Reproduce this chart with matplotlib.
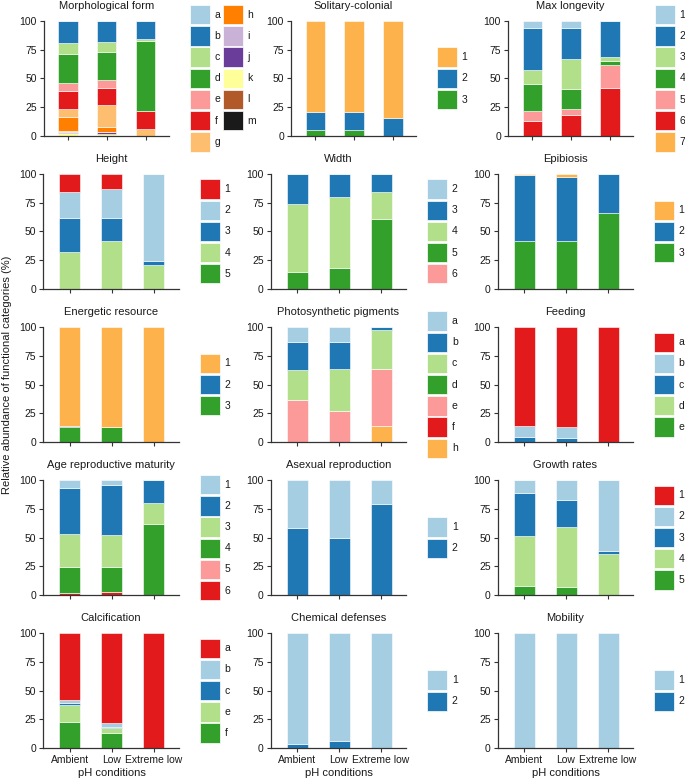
import matplotlib
matplotlib.use("Agg")
import matplotlib.pyplot as plt
import matplotlib.patches as patches

plt.rcParams['font.family'] = ['Liberation Sans', 'DejaVu Sans']

W, H = 685, 781

ph = ['Ambient', 'Low', 'Extreme low']

# colours (Paired palette + orange)
lb, bl, lg, gr = '#a6cee3', '#1f78b4', '#b2df8a', '#33a02c'
pk, rd, po, og = '#fb9a99', '#e31a1c', '#fdbf6f', '#ff7f00'
lav, pur, yel, brn, blk = '#cab2d6', '#6a3d9a', '#ffff99', '#b15928', '#1a1a1a'
org = '#feb24c'

# values: one row per category (legend order), columns = Ambient, Low, Extreme low
morph_cats = list('abcdefghijklm')
morph_vals = [[0, 0, 0], [19.5, 18.2, 16.2], [9.5, 8.8, 1.2], [25, 24.5, 60.9],
              [7, 7.2, 0], [15.5, 14.3, 15.3], [7, 19, 6.4], [12.5, 4.2, 0],
              [0.5, 0.3, 0], [1, 1.8, 0], [2.5, 1.7, 0], [0, 0, 0], [0, 0, 0]]
morph_cols = [lb, bl, lg, gr, pk, rd, po, og, lav, pur, yel, brn, blk]

solit_cats = ['1', '2', '3']
solit_vals = [[79, 79.5, 84], [16, 15, 16], [5, 5.5, 0]]
solit_cols = [org, bl, gr]

longev_cats = ['1', '2', '3', '4', '5', '6', '7']
longev_vals = [[6.6, 6.6, 0], [36.2, 26.6, 31.2], [12.4, 26, 3.8], [23.1, 17.4, 3.7],
               [8.4, 5.2, 19.3], [13.3, 18.2, 42], [0, 0, 0]]
longev_cols = [lb, bl, lg, gr, pk, rd, org]

height_cats = ['1', '2', '3', '4', '5']
height_vals = [[15.6, 13.3, 0], [22.6, 25.4, 75.7], [30, 19.4, 3.8], [31.8, 41.9, 20.5], [0, 0, 0]]
height_cols = [rd, lb, bl, lg, gr]

width_cats = ['2', '3', '4', '5', '6']
width_vals = [[0, 0, 0], [26.6, 20.5, 15.6], [58.4, 61, 24], [15, 18.5, 60.4], [0, 0, 0]]
width_cols = [lb, bl, lg, gr, pk]

epib_cats = ['1', '2', '3']
epib_vals = [[1.4, 2.6, 0], [57.4, 55.4, 34.4], [41.2, 42, 65.6]]
epib_cols = [org, bl, gr]

energ_cats = ['1', '2', '3']
energ_vals = [[86.1, 86.7, 100], [0.9, 0, 0], [13, 13.3, 0]]
energ_cols = [org, bl, gr]

pigm_cats = ['a', 'b', 'c', 'd', 'e', 'f', 'h']
pigm_vals = [[13.3, 13.3, 0], [24.1, 22.7, 2.6], [26.1, 36.8, 33.9], [0, 0, 0],
             [36.5, 27.2, 49.6], [0, 0, 0], [0, 0, 13.9]]
pigm_cols = [lb, bl, lg, gr, pk, rd, org]

feed_cats = ['a', 'b', 'c', 'd', 'e']
feed_vals = [[86.1, 87, 100], [9.6, 9.2, 0], [4.3, 3.8, 0], [0, 0, 0], [0, 0, 0]]
feed_cols = [rd, lb, bl, lg, gr]

age_cats = ['1', '2', '3', '4', '5', '6']
age_vals = [[7.2, 4.6, 0], [39.5, 43.5, 20], [29, 27.6, 18.3], [22, 21.1, 61.7],
            [0, 0, 0], [2.3, 3.2, 0]]
age_cols = [lb, bl, lg, gr, pk, rd]

asex_cats = ['1', '2']
asex_vals = [[41.4, 50.4, 20.9], [58.6, 49.6, 79.1]]
asex_cols = [lb, bl]

growth_cats = ['1', '2', '3', '4', '5']
growth_vals = [[0, 0, 0], [11, 17.4, 61.2], [37.4, 23.2, 2.6], [43.8, 52.4, 36.2], [7.8, 7, 0]]
growth_cols = [rd, lb, bl, lg, gr]

calc_cats = ['a', 'b', 'c', 'e', 'f']
calc_vals = [[58.1, 78.3, 100], [2.3, 2.9, 0], [2, 0.9, 0], [14.8, 4.9, 0], [22.8, 13, 0]]
calc_cols = [rd, lb, bl, lg, gr]

chem_cats = ['1', '2']
chem_vals = [[96.2, 94, 100], [3.8, 6, 0]]
chem_cols = [lb, bl]

mob_cats = ['1', '2']
mob_vals = [[100, 100, 100], [0, 0, 0]]
mob_cols = [lb, bl]

panels = [
    ('Morphological form', morph_cats, morph_vals, morph_cols),
    ('Solitary-colonial', solit_cats, solit_vals, solit_cols),
    ('Max longevity', longev_cats, longev_vals, longev_cols),
    ('Height', height_cats, height_vals, height_cols),
    ('Width', width_cats, width_vals, width_cols),
    ('Epibiosis', epib_cats, epib_vals, epib_cols),
    ('Energetic resource', energ_cats, energ_vals, energ_cols),
    ('Photosynthetic pigments', pigm_cats, pigm_vals, pigm_cols),
    ('Feeding', feed_cats, feed_vals, feed_cols),
    ('Age reproductive maturity', age_cats, age_vals, age_cols),
    ('Asexual reproduction', asex_cats, asex_vals, asex_cols),
    ('Growth rates', growth_cats, growth_vals, growth_cols),
    ('Calcification', calc_cats, calc_vals, calc_cols),
    ('Chemical defenses', chem_cats, chem_vals, chem_cols),
    ('Mobility', mob_cats, mob_vals, mob_cols),
]

# layout in pixels
row_top = [20.7, 173.7, 327, 480, 633]
row_h = 115.3
xlo, xhi = -0.63, 2.6
key_w, key_h, key_step = 20, 19.3, 21.2
axcol = '#333333'
txtcol = '#1a1a1a'

fig = plt.figure(figsize=(W / 100, H / 100), dpi=100)


def fx(x):
    return x / W


def fy(y):
    return 1 - y / H


def draw_keys(x, y0, cats, cols):
    for i, (c, col) in enumerate(zip(cats, cols)):
        y = y0 + i * key_step
        fig.add_artist(patches.Rectangle((fx(x), fy(y + key_h)), key_w / W, key_h / H,
                                         facecolor=col, edgecolor='white', linewidth=0.5,
                                         transform=fig.transFigure))
        fig.text(fx(x + key_w + 4.5), fy(y + key_h / 2), c, fontsize=7.5,
                 color=txtcol, va='center', ha='left')


for k, (title, cats, vals, cols) in enumerate(panels):
    r, c = divmod(k, 3)
    if r == 0:
        s = 38.8
        c0 = [68, 315.3, 532.3][c]
        lx = [190, 436.7, 655][c]
    else:
        s = 42
        c0 = [69.7, 297, 524][c]
        lx = [200, 427.3, 654][c]
    left = c0 + xlo * s
    top = row_top[r]
    ax = fig.add_axes([fx(left), fy(top + row_h), (xhi - xlo) * s / W, row_h / H])

    bottom = [0, 0, 0]
    for cat_vals, col in zip(reversed(vals), reversed(cols)):
        ax.bar(range(3), cat_vals, bottom=bottom, width=0.5, color=col,
               edgecolor='white', linewidth=0.4)
        bottom = [b + v for b, v in zip(bottom, cat_vals)]

    ax.set_xlim(xlo, xhi)
    ax.set_ylim(0, 100)
    ax.set_yticks([0, 25, 50, 75, 100])
    ax.set_xticks(range(3))
    if r == 4:
        ax.set_xticklabels(ph)
        fig.text(fx(left + (1 - xlo) * s), fy(773), 'pH conditions',
                 ha='center', va='center', fontsize=8, color=txtcol)
    else:
        ax.set_xticklabels([])
    for side in ['top', 'right']:
        ax.spines[side].set_visible(False)
    for side in ['left', 'bottom']:
        ax.spines[side].set_color(axcol)
        ax.spines[side].set_linewidth(0.9)
    ax.tick_params(length=3, width=0.8, color=axcol, labelsize=7.5,
                   labelcolor=txtcol, pad=2)
    ax.set_title(title, fontsize=8, color=txtcol, pad=8.5)

    # legend
    if k == 0:
        draw_keys(190, 5, cats[:7], cols[:7])
        draw_keys(223, 5, cats[7:], cols[7:])
    else:
        n = len(cats)
        center = top + row_h / 2
        y0 = center - (n * key_step - (key_step - key_h)) / 2
        draw_keys(lx, y0, cats, cols)

fig.text(fx(7), fy(375), 'Relative abundance of functional categories (%)',
         rotation=90, ha='center', va='center', fontsize=8, color=txtcol)

fig.savefig('out.png', dpi=100)
